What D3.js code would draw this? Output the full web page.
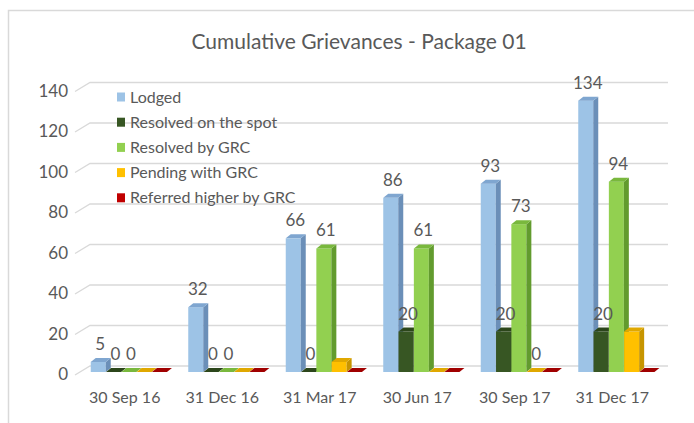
<!DOCTYPE html>
<html><head><meta charset="utf-8">
<script src="https://cdn.jsdelivr.net/npm/d3@7"></script>
<style>body{margin:0;background:#fff}svg{display:block}text{font-family:Lato,"Liberation Sans",Arial,sans-serif}</style>
</head><body><svg id="c" width="694" height="423"></svg>
<script>
const categories = ["30 Sep 16","31 Dec 16","31 Mar 17","30 Jun 17","30 Sep 17","31 Dec 17"];
const seriesNames = ["Lodged","Resolved on the spot","Resolved by GRC","Pending with GRC","Referred higher by GRC"];
const lodged = [5,32,66,86,93,134];
const resolvedSpot = [0,0,0,20,20,20];
const resolvedGRC = [0,0,61,61,73,94];
const pendingGRC = [0,0,5,0,0,20];
const referredHigher = [0,0,0,0,0,0];
const lodgedLabels = [true,true,true,true,true,true];
const spotLabels = [true,true,true,true,true,true];
const grcLabels = [true,true,true,true,true,true];
const pendingLabels = [false,false,false,false,true,false];
const referredLabels = [false,false,false,false,false,false];
const yTicks = [0,20,40,60,80,100,120,140];
const frontColors = ["#9dc3e6","#375623","#92d050","#ffc000","#c00000"];
const sideColors = ["#6b8fb8","#243b16","#629b2e","#c79500","#8a0000"];
const topColors = ["#7fa6d0","#2c461b","#79b83d","#e0a800","#a00000"];

const seriesValues = [lodged, resolvedSpot, resolvedGRC, pendingGRC, referredHigher];
const seriesLabels = [lodgedLabels, spotLabels, grcLabels, pendingLabels, referredLabels];

const svg = d3.select("#c");
const grey = "#595959";

// chart border
svg.append("path").attr("d","M8.5,430 L8.5,10.5 L700,10.5").attr("fill","none").attr("stroke","#d9d9d9").attr("stroke-width",1.5);

// title
svg.append("text").attr("x",359).attr("y",49).attr("text-anchor","middle")
  .attr("font-size",21).attr("fill",grey).text("Cumulative Grievances - Package 01");

const y = d3.scaleLinear().domain([0,140]).range([372, 372-140*2.025]);
const x0 = d3.scaleBand().domain(categories).range([76,661]);
const xi = d3.scaleBand().domain(d3.range(5)).range([0,76.5]);
const bw = 15, dx = 5, dy = 4;

// gridlines (3D back wall + left diagonal)
const wdx = 15, wdy = 9;
svg.append("g").selectAll("path").data(yTicks).join("path")
  .attr("d", v => `M75,${y(v)+3} L${75+wdx},${y(v)+3-wdy} L668,${y(v)+3-wdy}`)
  .attr("fill","none").attr("stroke","#d9d9d9").attr("stroke-width",1.3);

// y axis labels
svg.append("g").selectAll("text").data(yTicks).join("text")
  .attr("x",68).attr("y", v => y(v)+8).attr("text-anchor","end")
  .attr("font-size",17).attr("fill",grey).text(d => d);

// x labels
svg.append("g").selectAll("text").data(categories).join("text")
  .attr("x", c => x0(c)+x0.bandwidth()/2).attr("y",403).attr("text-anchor","middle")
  .attr("font-size",16).attr("fill",grey).text(d => d);

// bars
const bars = [];
categories.forEach((c,ci) => {
  seriesValues.forEach((vals,si) => {
    bars.push({c, ci, si, v: vals[ci], x: x0(c)+x0.bandwidth()/2-34+xi(si)});
  });
});
const bg = svg.append("g");
bars.forEach(b => {
  const top = y(b.v), bot = y(0), x = b.x;
  const g = bg.append("g");
  if (b.v > 0) {
    g.append("rect").attr("x",x).attr("y",top).attr("width",bw).attr("height",bot-top).attr("fill",frontColors[b.si]);
    g.append("path").attr("d",`M${x+bw},${top} L${x+bw+dx},${top-dy} L${x+bw+dx},${bot-dy} L${x+bw},${bot} Z`).attr("fill",sideColors[b.si]);
  }
  g.append("path").attr("d",`M${x},${top} L${x+bw},${top} L${x+bw+dx},${top-dy} L${x+dx},${top-dy} Z`).attr("fill",topColors[b.si]);
});

// data labels
const lg = svg.append("g");
bars.forEach(b => {
  if (!seriesLabels[b.si][b.ci]) return;
  lg.append("text").attr("x", b.x+bw/2+2).attr("y", y(b.v)-12).attr("text-anchor","middle")
    .attr("font-size",17).attr("fill",grey).text(b.v);
});

// legend
const leg = svg.append("g");
seriesNames.forEach((n,i) => {
  const yy = 97 + i*25.2;
  leg.append("rect").attr("x",117).attr("y",yy-4.5).attr("width",8).attr("height",9).attr("fill",frontColors[i]);
  leg.append("text").attr("x",130).attr("y",yy+5.5).attr("font-size",16).attr("fill",grey).text(n);
});
</script></body></html>
